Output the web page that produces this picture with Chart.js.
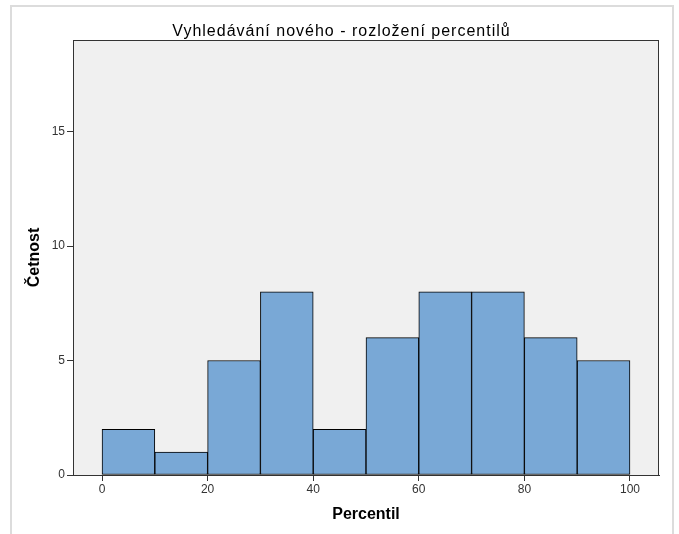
<!DOCTYPE html>
<html>
<head>
<meta charset="utf-8">
<script src="https://cdn.jsdelivr.net/npm/chart.js@4"></script>
<style>
  html, body { margin: 0; padding: 0; background: #fff; }
  #wrap { width: 679px; height: 534px; }
</style>
</head>
<body>
<div id="wrap"><canvas id="histChart" width="679" height="534"></canvas></div>
<script>
// histogram bins (bin centres, width 10) and counts
var binCenters = [5, 15, 25, 35, 45, 55, 65, 75, 85, 95];
var counts = [2, 1, 5, 8, 2, 6, 8, 8, 6, 5];
var xTicks = [0, 20, 40, 60, 80, 100];
var yTicks = [0, 5, 10, 15];

var FONT = 'Arial, "Liberation Sans", sans-serif';

var frame = {
    id: 'frame',
    beforeDraw: function(chart) {
        var ctx = chart.ctx, a = chart.chartArea;
        // SPSS title is drawn a bit wider and centred on the whole frame
        var tb = chart.titleBlock;
        if (tb && !tb._spaced) {
            var orig = tb.draw;
            tb.draw = function() {
                var c = this.ctx;
                c.save();
                c.letterSpacing = '1px';
                c.translate(12, 0);
                orig.apply(this, arguments);
                c.restore();
            };
            tb._spaced = true;
        }
        ctx.save();
        ctx.fillStyle = '#ffffff';
        ctx.fillRect(0, 0, chart.width, chart.height);
        ctx.strokeStyle = '#dcdcdc';
        ctx.lineWidth = 2;
        ctx.strokeRect(11, 6, 662, 540);
        ctx.fillStyle = '#f0f0f0';
        ctx.fillRect(a.left, a.top, a.right - a.left, a.bottom - a.top);
        ctx.restore();
    },
    afterDraw: function(chart) {
        var ctx = chart.ctx, a = chart.chartArea;
        ctx.save();
        ctx.strokeStyle = '#333';
        ctx.lineWidth = 1;
        ctx.strokeRect(a.left + 0.5, a.top + 0.5, a.right - a.left - 1, a.bottom - a.top);
        ctx.restore();
    }
};

var ctx = document.getElementById('histChart').getContext('2d');
var histChart = new Chart(ctx, {
    type: 'bar',
    data: {
        datasets: [{
            data: binCenters.map(function(x, i) { return { x: x, y: counts[i] }; }),
            backgroundColor: '#79a8d6',
            borderColor: '#000',
            borderWidth: 1,
            borderSkipped: false,
            barPercentage: 1,
            categoryPercentage: 1
        }]
    },
    options: {
        responsive: false,
        animation: false,
        layout: { padding: { left: 0, right: 20, top: 0, bottom: 0 } },
        plugins: {
            legend: { display: false },
            tooltip: { enabled: false },
            title: {
                display: true,
                text: 'Vyhledávání nového - rozložení percentilů',
                color: '#000',
                font: { family: FONT, size: 16, weight: 'normal', lineHeight: 1 },
                padding: { top: 24, bottom: 0 }
            }
        },
        scales: {
            x: {
                type: 'linear',
                min: -5.5,
                max: 105.5,
                offset: false,
                afterBuildTicks: function(s) { s.ticks = xTicks.map(function(v) { return { value: v }; }); },
                afterFit: function(s) { s.height = 59; },
                grid: { display: true, drawOnChartArea: false, drawTicks: true, tickLength: 6, color: '#333', offset: false },
                border: { display: true, color: '#333' },
                ticks: { color: '#333', font: { family: FONT, size: 12 }, padding: 1, maxRotation: 0 },
                title: {
                    display: true, text: 'Percentil', color: '#000',
                    font: { family: FONT, size: 16, weight: 'bold' },
                    padding: { top: 0, bottom: 10 }
                }
            },
            y: {
                min: 0,
                max: 19,
                afterBuildTicks: function(s) { s.ticks = yTicks.map(function(v) { return { value: v }; }); },
                afterFit: function(s) { s.width = 73; },
                grid: { display: true, drawOnChartArea: false, drawTicks: true, tickLength: 6, color: '#333' },
                border: { display: true, color: '#333' },
                ticks: { color: '#333', font: { family: FONT, size: 12 }, padding: 2 },
                title: {
                    display: true, text: 'Četnost', color: '#000',
                    font: { family: FONT, size: 16, weight: 'bold' },
                    padding: { top: 25, bottom: 0 }
                }
            }
        }
    },
    plugins: [frame]
});
</script>
</body>
</html>
